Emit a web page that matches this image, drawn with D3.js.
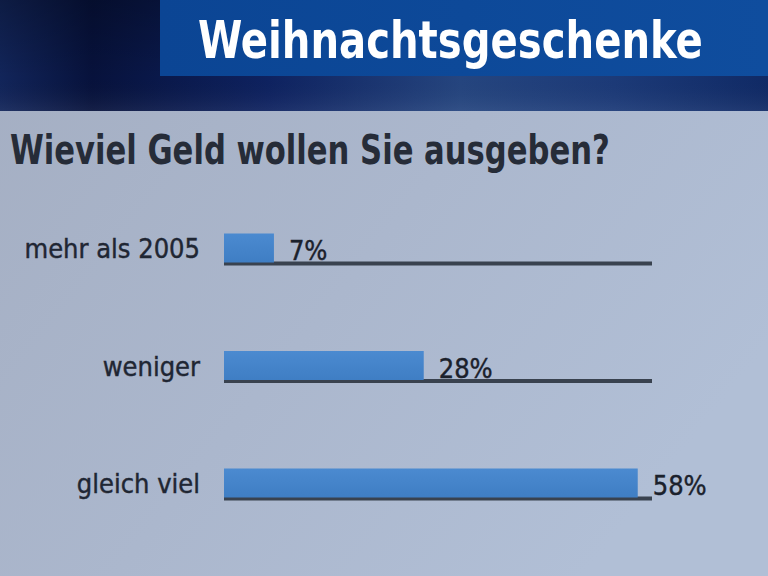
<!DOCTYPE html>
<html>
<head>
<meta charset="utf-8">
<script src="https://cdn.jsdelivr.net/npm/d3@7"></script>
<style>
  html, body { margin: 0; padding: 0; background: #a9b5ca; }
  svg { display: block; }
</style>
</head>
<body>
<svg id="chart"></svg>
<script>
// data
const title = 'Weihnachtsgeschenke';
const subtitle = 'Wieviel Geld wollen Sie ausgeben?';
const categories = ['mehr als 2005', 'weniger', 'gleich viel'];
const values = [7, 28, 58];
const valueLabels = ['7%', '28%', '58%'];

const width = 768;
const height = 576;
const font = "'DejaVu Sans Condensed', 'Liberation Sans Narrow', sans-serif";

const svg = d3.select('#chart')
  .attr('width', width)
  .attr('height', height);

const defs = svg.append('defs');

// light background
const bgGrad = defs.append('linearGradient')
  .attr('id', 'bg').attr('x1', 0).attr('y1', 0).attr('x2', 1).attr('y2', 0.6);
bgGrad.append('stop').attr('offset', 0).attr('stop-color', '#a4aec2');
bgGrad.append('stop').attr('offset', 0.55).attr('stop-color', '#abb7cd');
bgGrad.append('stop').attr('offset', 1).attr('stop-color', '#b1bfd6');

// dark header band
const bandGrad = defs.append('linearGradient')
  .attr('id', 'band').attr('x1', 0).attr('y1', 0).attr('x2', 1).attr('y2', 0);
bandGrad.append('stop').attr('offset', 0).attr('stop-color', '#12255a');
bandGrad.append('stop').attr('offset', 0.12).attr('stop-color', '#07123c');
bandGrad.append('stop').attr('offset', 0.35).attr('stop-color', '#0e2260');
bandGrad.append('stop').attr('offset', 0.6).attr('stop-color', '#25457f');
bandGrad.append('stop').attr('offset', 0.8).attr('stop-color', '#1c3a78');
bandGrad.append('stop').attr('offset', 1).attr('stop-color', '#102a66');

const bandShade = defs.append('linearGradient')
  .attr('id', 'bandShade').attr('x1', 0).attr('y1', 0).attr('x2', 0).attr('y2', 1);
bandShade.append('stop').attr('offset', 0).attr('stop-color', '#000').attr('stop-opacity', 0.25);
bandShade.append('stop').attr('offset', 0.7).attr('stop-color', '#000').attr('stop-opacity', 0);
bandShade.append('stop').attr('offset', 1).attr('stop-color', '#fff').attr('stop-opacity', 0.06);

const boxGrad = defs.append('linearGradient')
  .attr('id', 'box').attr('x1', 0).attr('y1', 0).attr('x2', 1).attr('y2', 0);
boxGrad.append('stop').attr('offset', 0).attr('stop-color', '#0b4594');
boxGrad.append('stop').attr('offset', 1).attr('stop-color', '#0f4d9e');

const barGrad = defs.append('linearGradient')
  .attr('id', 'bar').attr('x1', 0).attr('y1', 0).attr('x2', 0).attr('y2', 1);
barGrad.append('stop').attr('offset', 0).attr('stop-color', '#4b8ad0');
barGrad.append('stop').attr('offset', 1).attr('stop-color', '#3f7ec4');

svg.append('rect').attr('width', width).attr('height', height).attr('fill', 'url(#bg)');
svg.append('rect').attr('width', width).attr('height', 111).attr('fill', 'url(#band)');
svg.append('rect').attr('width', width).attr('height', 111).attr('fill', 'url(#bandShade)');
svg.append('rect').attr('x', 160).attr('y', 0).attr('width', width - 160).attr('height', 76)
  .attr('fill', 'url(#box)');

// squeeze a text horizontally so it spans w pixels starting at x0
function fit(sel, x0, w) {
  const len = sel.node().getComputedTextLength();
  sel.attr('x', 0).attr('transform', `translate(${x0},${sel.attr('y')}) scale(${w / len},1)`)
    .attr('y', 0);
}

svg.append('text')
  .attr('y', 58)
  .attr('font-family', font).attr('font-weight', 'bold').attr('font-size', 52)
  .attr('fill', '#ffffff')
  .text(title)
  .call(fit, 198, 505);

svg.append('text')
  .attr('y', 164)
  .attr('font-family', font).attr('font-weight', 'bold').attr('font-size', 40)
  .attr('fill', '#262c38')
  .text(subtitle)
  .call(fit, 10, 600);

// scales
const x = d3.scaleLinear().domain([0, 60]).range([224, 652]);
const y = d3.scalePoint().domain(categories).range([248, 483]);
const barH = 29;

const rows = svg.append('g').selectAll('g')
  .data(categories)
  .join('g')
  .attr('transform', d => `translate(0,${y(d)})`);

// track line
rows.append('rect')
  .attr('x', x(0)).attr('y', barH / 2 - 1)
  .attr('width', x(60) - x(0)).attr('height', 4)
  .attr('fill', '#39424f');

rows.append('rect')
  .attr('x', x(0)).attr('y', -barH / 2)
  .attr('width', (d, i) => x(values[i]) - x(0)).attr('height', barH)
  .attr('fill', 'url(#bar)');

rows.append('text')
  .attr('x', 200).attr('y', 10)
  .attr('text-anchor', 'end')
  .attr('font-family', font).attr('font-size', 27)
  .attr('fill', '#1f2633')
  .attr('stroke', '#1f2633').attr('stroke-width', 0.4)
  .text(d => d);

rows.append('text')
  .attr('x', (d, i) => x(values[i]) + 15).attr('y', 12)
  .attr('font-family', font).attr('font-size', 27)
  .attr('fill', '#1b212c')
  .attr('stroke', '#1b212c').attr('stroke-width', 0.4)
  .text((d, i) => valueLabels[i]);
</script>
</body>
</html>
